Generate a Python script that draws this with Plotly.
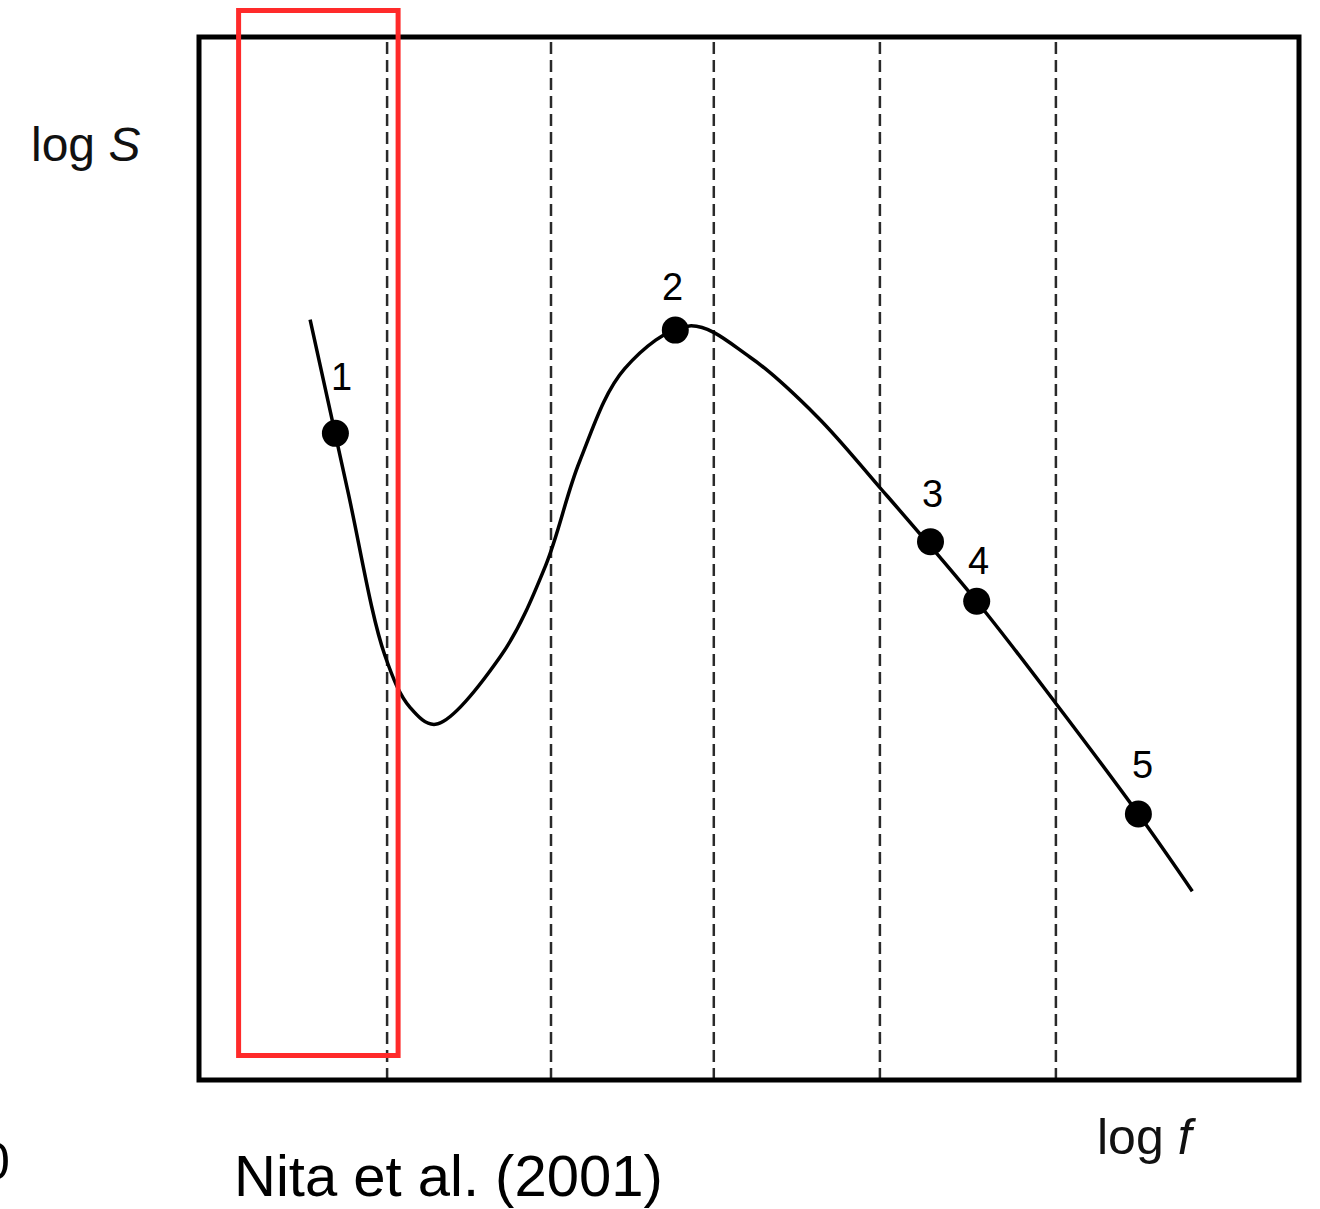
import plotly.graph_objects as go

# ---- data (arbitrary log units, box spans 0..10 on both axes) ----
curve_logf = [1.01, 1.35, 1.69, 1.92, 2.15, 2.74, 3.15, 3.46, 3.87, 4.46, 5.01, 5.62,
              6.19, 7.07, 7.79, 8.54, 9.03]
curve_logS = [7.29, 5.66, 4.07, 3.57, 3.41, 4.06, 4.93, 5.93, 6.82, 7.23, 6.93, 6.36,
              5.68, 4.59, 3.61, 2.55, 1.81]

point_labels = ["1", "2", "3", "4", "5"]
point_logf = [1.24, 4.33, 6.65, 7.07, 8.54]
point_logS = [6.20, 7.19, 5.16, 4.59, 2.55]
label_dx = [6, -3, 2, 2, 4]
label_dy = [-56, -43, -48, -40, -49]

divider_logf = [1.71, 3.20, 4.68, 6.19, 7.79]

FONT = "Liberation Sans, Arial, Helvetica, sans-serif"

fig = go.Figure()

fig.add_trace(go.Scatter(
    x=curve_logf, y=curve_logS, mode="lines",
    line=dict(color="black", width=3.5, shape="spline", smoothing=1.0),
    hoverinfo="skip", showlegend=False,
))

fig.add_trace(go.Scatter(
    x=point_logf, y=point_logS, mode="markers",
    marker=dict(color="black", size=27),
    hoverinfo="skip", showlegend=False,
))

shapes = []
for xv in divider_logf:
    shapes.append(dict(type="line", xref="x", yref="paper", x0=xv, x1=xv, y0=0, y1=1,
                       line=dict(color="#2a2a2a", width=2.5, dash="12px,6px"), layer="below"))
# frame box
shapes.append(dict(type="rect", xref="paper", yref="paper", x0=0, x1=1, y0=0, y1=1,
                   line=dict(color="black", width=5), layer="above"))
# red highlight box
shapes.append(dict(type="rect", xref="paper", yref="paper", x0=0.036, x1=0.181,
                   y0=0.0235, y1=1.0254,
                   line=dict(color="#ff2a2a", width=5), layer="above"))

annotations = []
for lab, xv, yv, dx, dy in zip(point_labels, point_logf, point_logS, label_dx, label_dy):
    annotations.append(dict(x=xv, y=yv, xref="x", yref="y", text=lab, showarrow=False,
                            xshift=dx, yshift=-dy, font=dict(family=FONT, size=38, color="black")))

annotations += [
    dict(xref="paper", yref="paper", x=-0.1036, y=0.8965, text="log <i>S</i>", showarrow=False,
         xanchor="center", yanchor="middle", font=dict(family=FONT, size=48, color="#111")),
    dict(xref="paper", yref="paper", x=0.862, y=-0.055, text="log <i>f</i>", showarrow=False,
         xanchor="center", yanchor="middle", font=dict(family=FONT, size=50, color="#111")),
    dict(xref="paper", yref="paper", x=0.227, y=-0.0915, text="Nita et al. (2001)", showarrow=False,
         xanchor="center", yanchor="middle", font=dict(family=FONT, size=58, color="black")),
    dict(xref="paper", yref="paper", x=-0.17, y=-0.078, text="0", showarrow=False,
         xanchor="right", yanchor="middle", font=dict(family=FONT, size=52, color="black")),
]

fig.update_layout(
    width=1320, height=1209,
    margin=dict(l=199, r=21, t=37, b=129, pad=0),
    paper_bgcolor="white", plot_bgcolor="white",
    xaxis=dict(range=[0, 10], visible=False, fixedrange=True),
    yaxis=dict(range=[0, 10], visible=False, fixedrange=True),
    shapes=shapes, annotations=annotations,
    showlegend=False,
)

fig.write_html("out.html", config={"displayModeBar": False})
